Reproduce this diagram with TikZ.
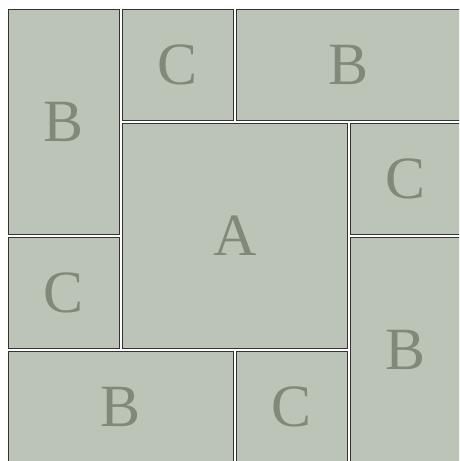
\documentclass[tikz,border=0pt]{standalone}
\usepackage{fontspec}
\setmainfont{Liberation Serif}
\definecolor{tilefill}{HTML}{BCC4B8}
\definecolor{tileline}{HTML}{333333}
\definecolor{tiletext}{HTML}{808A7A}
\begin{document}
\begin{tikzpicture}[
    x=1pt, y=-1pt,
    tile/.style={rectangle, draw=tileline, line width=1pt, fill=tilefill,
                 text=tiletext, inner sep=0pt,
                 font=\fontsize{60}{60}\selectfont},
    small/.style={tile, minimum width=111.8pt, minimum height=111.8pt},
    tall/.style={tile, minimum width=111.8pt, minimum height=225.8pt},
    wide/.style={tile, minimum width=225.8pt, minimum height=111.8pt},
    big/.style={tile, minimum width=225.8pt, minimum height=225.8pt}
]
    \useasboundingbox (0,0) rectangle (459,461);
    \fill[white] (0,0) rectangle (459,461);
    \clip (0,0) rectangle (459,461);

    % centre square
    \node[big] (a) at (235,236) {A};

    % pinwheel of long tiles
    \node[tall] (bleft)   at (64,122)  {B};
    \node[wide] (btop)    at (349,65)  {B};
    \node[tall] (bright)  at (406,350) {B};
    \node[wide] (bbottom) at (121,407) {B};

    % small squares
    \node[small] (ctop)    at (178,65)  {C};
    \node[small] (cright)  at (406,179) {C};
    \node[small] (cbottom) at (292,407) {C};
    \node[small] (cleft)   at (64,293)  {C};
\end{tikzpicture}
\end{document}
